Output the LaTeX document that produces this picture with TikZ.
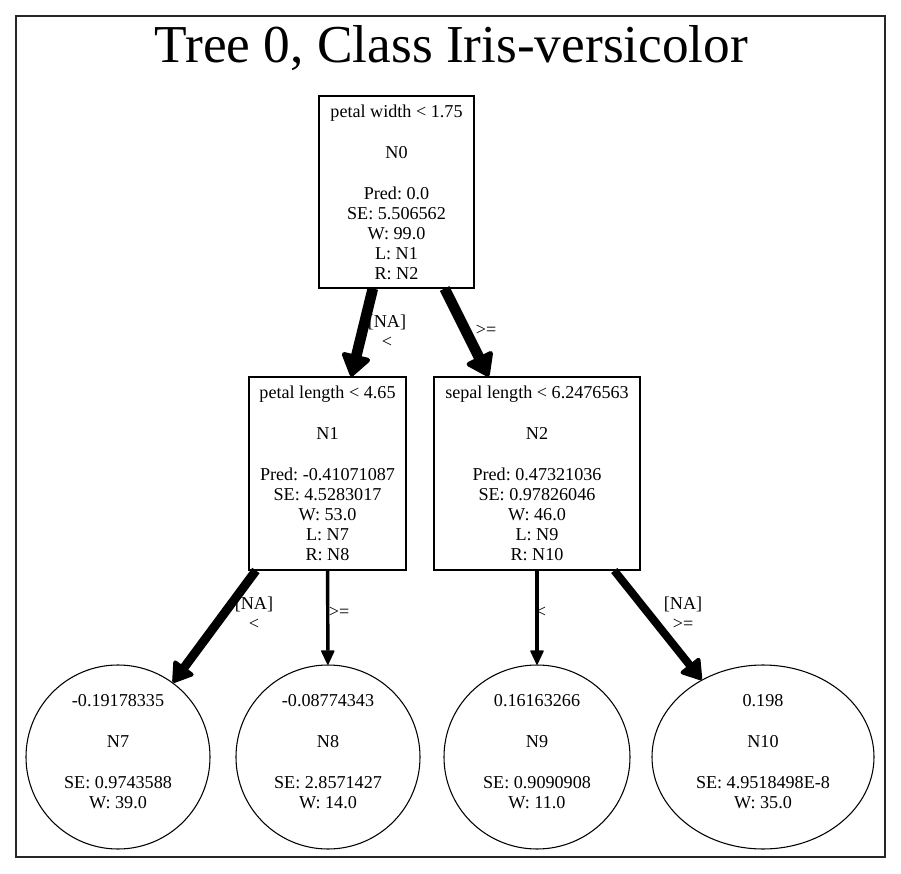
\documentclass[tikz,border=0pt]{standalone}
\usepackage{fontspec}
\setmainfont{Liberation Serif}
\usetikzlibrary{arrows.meta,shapes.geometric}
\frenchspacing
\begin{document}
\begin{tikzpicture}[x=0.75pt,y=-0.75pt,
  txt/.style={font=\fontsize{13.6}{15}\selectfont, align=center, inner sep=0pt},
  box/.style={txt, draw, line width=0.8pt, rectangle},
  leaf/.style={txt, draw, line width=0.8pt, ellipse},
  lbl/.style={txt},
  ethick/.style={line width=8pt, -{Triangle[length=18pt,width=24pt,line width=3.5pt,round]}},
  emid/.style={line width=#1, -{Triangle[length=16pt,width=20pt,line width=3pt,round]}},
  ethin/.style={line width=2.6pt, -{Triangle[length=11.5pt,width=10.5pt,line width=1.2pt,round]}}
]
\useasboundingbox (0,0) rectangle (901,874);
\draw[black!85, line width=0.8pt] (16,16) rectangle (885,857);
\node[txt, font=\fontsize{40}{44}\selectfont] (title) at (451.5,48.5) {Tree 0, Class Iris-versicolor};

\node[box, minimum width=116.25pt, minimum height=144pt] (N0) at (396.5,192)
  {petal width < 1.75\\[15.75pt]N0\\[15.75pt]Pred: 0.0\\SE: 5.506562\\W: 99.0\\L: N1\\R: N2};
\node[box, minimum width=117.75pt, minimum height=144.75pt] (N1) at (327.5,473.5)
  {petal length < 4.65\\[15.75pt]N1\\[15.75pt]Pred: -0.41071087\\SE: 4.5283017\\W: 53.0\\L: N7\\R: N8};
\node[box, minimum width=154.5pt, minimum height=144.75pt] (N2) at (537,473.5)
  {sepal length < 6.2476563\\[15.75pt]N2\\[15.75pt]Pred: 0.47321036\\SE: 0.97826046\\W: 46.0\\L: N9\\R: N10};

\node[leaf, minimum width=138pt, minimum height=138pt, text depth=9pt] (N7) at (118,757)
  {-0.19178335\\[15.75pt]N7\\[15.75pt]SE: 0.9743588\\W: 39.0};
\node[leaf, minimum width=138pt, minimum height=138pt, text depth=9pt] (N8) at (328,757)
  {-0.08774343\\[15.75pt]N8\\[15.75pt]SE: 2.8571427\\W: 14.0};
\node[leaf, minimum width=139.5pt, minimum height=138pt, text depth=9pt] (N9) at (537,757)
  {0.16163266\\[15.75pt]N9\\[15.75pt]SE: 0.9090908\\W: 11.0};
\node[leaf, minimum width=166.5pt, minimum height=138pt, text depth=9pt] (N10) at (763,757)
  {0.198\\[15.75pt]N10\\[15.75pt]SE: 4.9518498E-8\\W: 35.0};

\draw[ethick] (N0) -- (N1);
\draw[ethick] (N0) -- (N2);
\draw[emid=6.75pt] (N1) -- (N7);
\draw[ethin] (N1) -- (N8);
\draw[ethin] (N2) -- (N9);
\draw[emid=6pt] (N2) -- (N10);

\node[lbl] (l01) at (387,331) {[NA]\\<};
\node[lbl] (l02) at (486,330) {>=};
\node[lbl] (l17) at (254,613) {[NA]\\<};
\node[lbl] (l18) at (339,612) {>=};
\node[lbl] (l29) at (541,612) {<};
\node[lbl] (l210) at (683,613) {[NA]\\>=};
\end{tikzpicture}
\end{document}
